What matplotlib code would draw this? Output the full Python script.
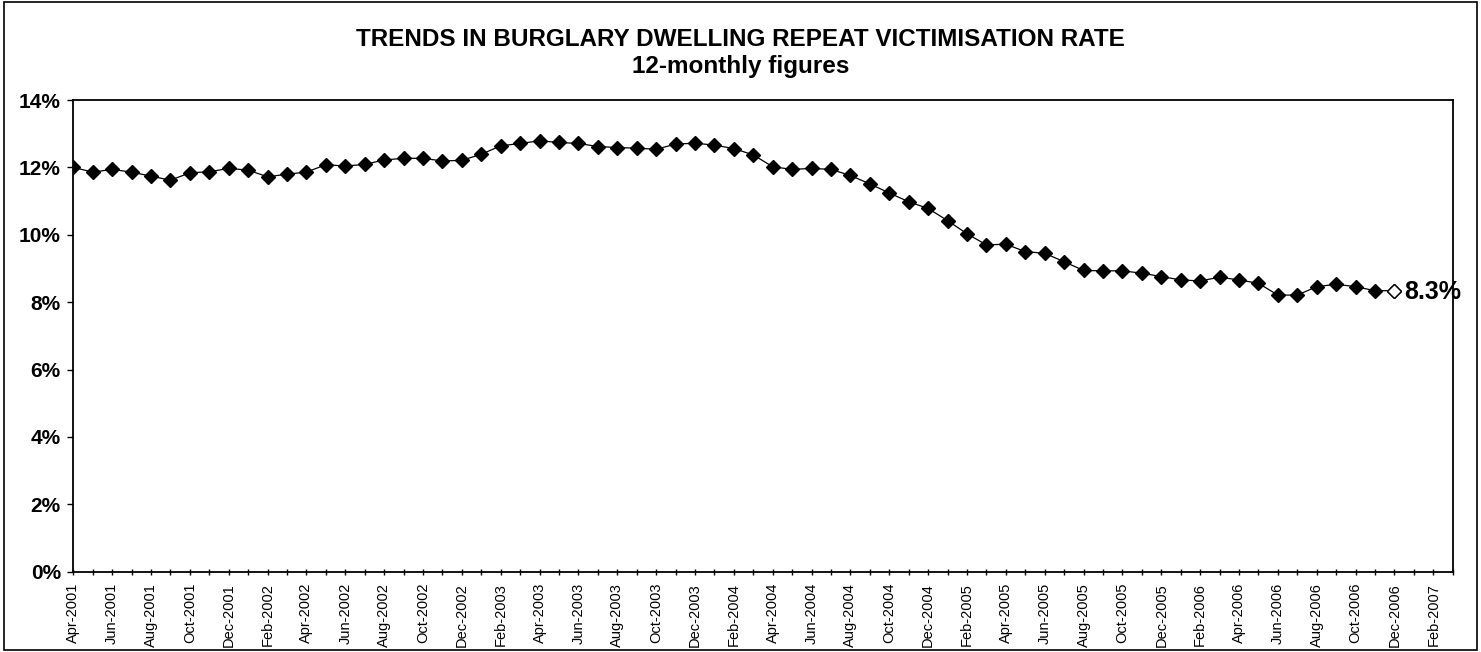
import pandas as pd
import matplotlib.pyplot as plt
from matplotlib.patches import Rectangle

# Monthly axis from Apr-2001 to Mar-2007 (labels every second month).
months = pd.date_range('2001-04-01', '2007-03-01', freq='MS')
monthLabels = [m.strftime('%b-%Y') for m in months]

# 12-monthly repeat victimisation rate (%), Apr-2001 .. Dec-2006.
rate2001 = [12.00, 11.86, 11.94, 11.86, 11.74, 11.62, 11.84, 11.87, 11.97]
rate2002 = [11.92, 11.72, 11.80, 11.86, 12.08, 12.04, 12.09, 12.22, 12.27,
            12.27, 12.19, 12.21]
rate2003 = [12.39, 12.64, 12.71, 12.79, 12.74, 12.71, 12.62, 12.59, 12.57,
            12.54, 12.69, 12.72]
rate2004 = [12.66, 12.56, 12.37, 12.02, 11.94, 11.97, 11.94, 11.76, 11.51,
            11.24, 10.98, 10.78]
rate2005 = [10.42, 10.03, 9.70, 9.72, 9.50, 9.45, 9.20, 8.94, 8.93,
            8.93, 8.86, 8.76]
rate2006 = [8.66, 8.63, 8.74, 8.66, 8.56, 8.21, 8.21, 8.46, 8.53,
            8.46, 8.34, 8.34]
latestLabel = '8.3%'

rates = rate2001 + rate2002 + rate2003 + rate2004 + rate2005 + rate2006


def plot_data():
    fig = plt.figure(figsize=(14.81, 6.52), dpi=100)
    plt.rcParams['font.family'] = ['Liberation Sans', 'DejaVu Sans']

    # Outer chart border.
    fig.patches.append(Rectangle((0.003, 0.003), 0.994, 0.994,
                                 transform=fig.transFigure, fill=False,
                                 edgecolor='black', linewidth=1.2))

    ax = fig.add_axes([0.0495, 0.1232, 0.9314, 0.7234])
    x = list(range(len(rates)))

    ax.plot(x, rates, color='black', linewidth=0.9, marker='D',
            markersize=7, markerfacecolor='black', markeredgecolor='black',
            zorder=3)
    # Latest month drawn as an open diamond.
    ax.plot(x[-1], rates[-1], linestyle='none', marker='D', markersize=7,
            markerfacecolor='white', markeredgecolor='black',
            markeredgewidth=1.0, zorder=4)
    ax.annotate(latestLabel, (x[-1], rates[-1]), xytext=(7, -1),
                textcoords='offset points', va='center', ha='left',
                fontsize=18, fontweight='bold')

    ax.set_xlim(0, len(months) - 1)
    ax.set_ylim(0, 14)

    ax.set_yticks(range(0, 15, 2))
    ax.set_yticklabels([f'{v}%' for v in range(0, 15, 2)],
                       fontsize=15, fontweight='bold')
    ax.tick_params(axis='y', direction='out', length=4, width=1, pad=5)

    ax.set_xticks(range(0, len(months), 2))
    ax.set_xticklabels(monthLabels[::2], rotation=90, fontsize=10.5)
    ax.set_xticks(range(len(months)), minor=True)
    ax.tick_params(axis='x', which='both', direction='inout', length=4,
                   width=1, pad=6)

    for spine in ax.spines.values():
        spine.set_linewidth(1.3)

    fig.text(0.5, 0.939, 'TRENDS IN BURGLARY DWELLING REPEAT VICTIMISATION RATE',
             ha='center', va='center', fontsize=17.5, fontweight='bold')
    fig.text(0.5, 0.898, '12-monthly figures', ha='center', va='center',
             fontsize=17.5, fontweight='bold')

    fig.savefig('out.png', dpi=100)


def main():
    plot_data()


if __name__ == '__main__':
    main()
